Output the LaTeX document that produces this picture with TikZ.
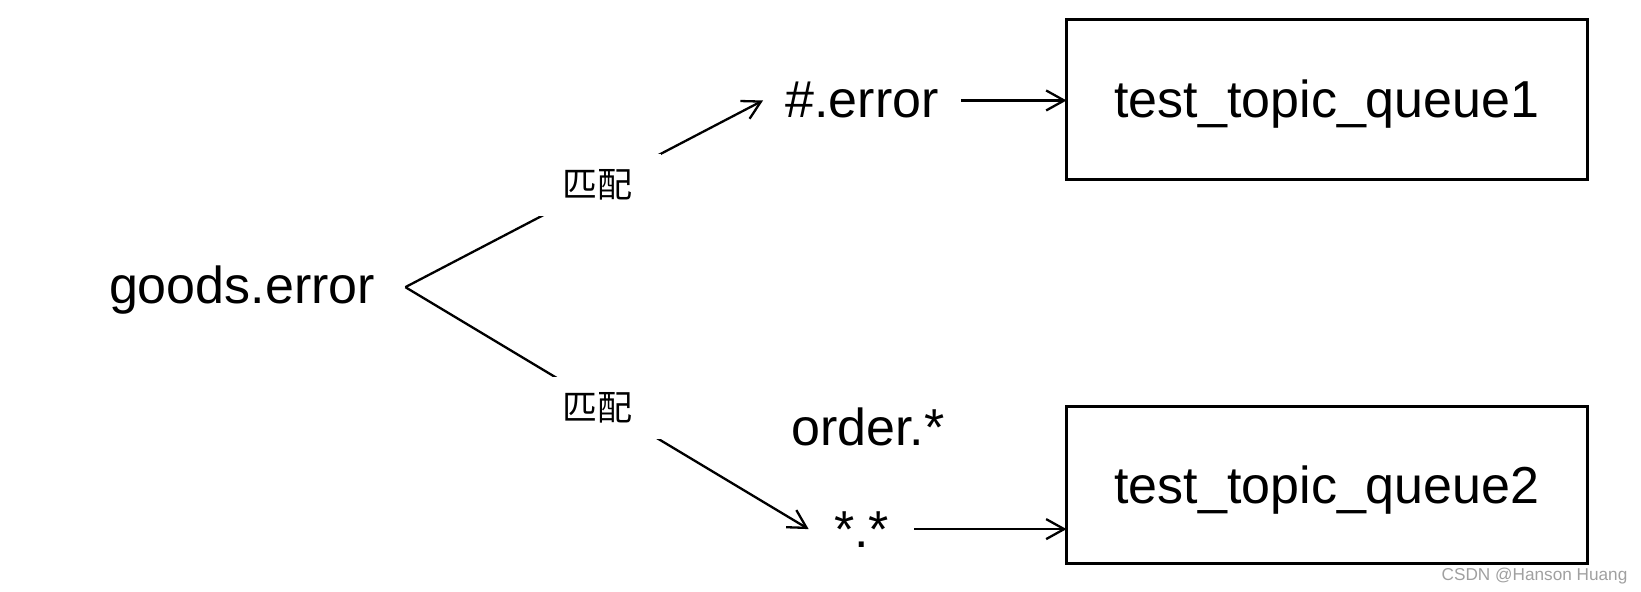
\documentclass[tikz,border=0pt]{standalone}
\usepackage{fontspec}
\setmainfont{Liberation Sans}
\newfontfamily\cjk{Noto Sans CJK SC}
\usetikzlibrary{arrows.meta}
\definecolor{wmgray}{RGB}{160,160,160}
\begin{document}
\begin{tikzpicture}[x=0.5pt,y=-0.5pt,
  lbl/.style={font=\fontsize{26pt}{30pt}\selectfont, inner sep=0pt},
  qbox/.style={draw, line width=1.5pt, outer sep=0pt, inner sep=0pt,
    minimum width=260.5pt, font=\fontsize{26pt}{30pt}\selectfont,
    text height=18.5pt, text depth=0pt},
  conn/.style={line width=1.15pt, -{Straight Barb[length=9pt,width=10pt]}},
  matchlbl/.style={fill=white, inner sep=0pt, minimum width=64pt, minimum height=31pt,
    font=\cjk\fontsize{17.5pt}{19pt}\selectfont},
  wmark/.style={font=\fontsize{8.6pt}{10pt}\selectfont, text=wmgray, inner sep=0pt}
]
\useasboundingbox (0,0) rectangle (1641,592);

% text nodes
\node[lbl, anchor=base, inner xsep=15pt] (ge) at (242,304) {goods.error};
\node[lbl, anchor=base, inner xsep=11pt] (he) at (862,118) {\#.error};
\node[lbl, anchor=base] (ord) at (868,445) {order.*};
\node[lbl, anchor=base, inner xsep=12.5pt] (st) at (861.5,547) {*.*};

% queue boxes
\node[qbox, minimum height=80pt] (q1) at (1327,99.5) {test\_topic\_queue1};
\node[qbox, minimum height=78.5pt] (q2) at (1327,485) {test\_topic\_queue2};

% connectors
\draw[conn] ([yshift=1.7pt]ge.east) -- (he.west);
\draw[conn] ([yshift=1.7pt]ge.east) -- (st.west);
\draw[conn] (he.east) -- (he.east -| q1.west);
\draw[conn] (st.east) -- (st.east -| q2.west);

% labels on the connectors
\node[matchlbl] (m1) at (597,185) {匹配};
\node[matchlbl] (m2) at (597,408) {匹配};

% watermark
\node[wmark] (wm) at (1534.5,576) {CSDN @Hanson Huang};
\end{tikzpicture}
\end{document}
